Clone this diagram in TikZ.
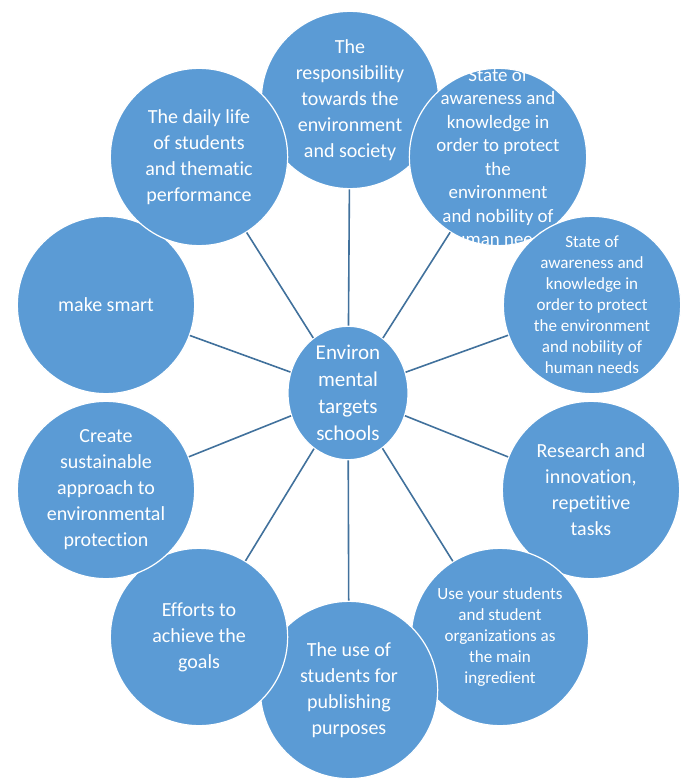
\documentclass[tikz,border=0pt]{standalone}
\usepackage{fontspec}
\setmainfont{Carlito}[Ligatures=NoCommon]
\usepackage{tikz}
\usetikzlibrary{shapes.geometric}

\definecolor{petalblue}{HTML}{5B9BD5}
\definecolor{spokeblue}{HTML}{41719C}

\tikzset{
  petal/.style={circle, fill=petalblue, draw=white, line width=0.9pt, minimum size=133pt, inner sep=0pt},
  petaltext/.style={text=white, align=center, inner sep=0pt, font=\fontsize{15}{19.5}\selectfont},
  smalltext/.style={petaltext, font=\fontsize{12.8}{15.8}\selectfont},
  spoke/.style={draw=spokeblue, line width=1.2pt},
}

\begin{document}
\begin{tikzpicture}[x=0.75pt, y=-0.75pt]
      \useasboundingbox (0,0) rectangle (685,780);
      % outer ring, drawn clockwise from the top
      \node[petal, label={[petaltext]center:The\\responsibility\\towards the\\environment\\and society}] (resp) at (350,100) {};
      \node[petal, label={[petaltext, font=\fontsize{14.2}{17.6}\selectfont]center:State of\\awareness and\\knowledge in\\order to protect\\the\\environment\\and nobility of\\human needs}] (aware1) at (498,157) {};
      \node[petal, label={[smalltext]center:State of\\awareness and\\knowledge in\\order to protect\\the environment\\and nobility of\\human needs}] (aware2) at (592,305) {};
      \node[petal, label={[petaltext]center:Research and\\innovation,\\repetitive\\tasks}] (research) at (591,490) {};
      \node[petal, label={[smalltext]center:Use your students\\and student\\organizations as\\the main\\ingredient}] (use) at (500,637) {};
      \node[petal, label={[petaltext]center:The use of\\students for\\publishing\\purposes}] (publish) at (349,690) {};
      \node[petal, label={[petaltext]center:Efforts to\\achieve the\\goals}] (efforts) at (199,637) {};
      \node[petal, label={[petaltext]center:Create\\sustainable\\approach to\\environmental\\protection}] (create) at (106,490) {};
      \node[petal, label={[petaltext]center:make smart}] (smart) at (106,305) {};
      \node[petal, label={[petaltext]center:The daily life\\of students\\and thematic\\performance}] (daily) at (199,157) {};
      % hub
      \node[ellipse, fill=petalblue, draw=white, line width=0.9pt, minimum width=90pt, minimum height=100pt, inner sep=0pt,
            label={[petaltext, font=\fontsize{15.8}{20.3}\selectfont]center:Environ\\mental\\targets\\schools}] (hub) at (348,393) {};
      \foreach \n in {resp,aware1,aware2,research,use,publish,efforts,create,smart,daily}
        \draw[spoke] (hub) -- (\n);
\end{tikzpicture}
\end{document}
